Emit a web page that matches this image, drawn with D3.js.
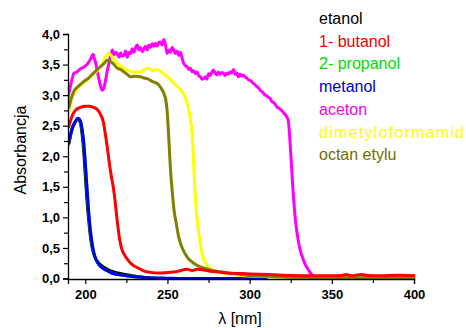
<!DOCTYPE html>
<html><head><meta charset="utf-8">
<script src="https://cdn.jsdelivr.net/npm/d3@7"></script>
<style>body{margin:0;background:#fff}svg{display:block}</style>
</head><body>
<svg id="c" width="466" height="328"></svg>
<script>
// ---- data (wavelength nm, absorbance) ----
const names = ["etanol","1- butanol","2- propanol","metanol","aceton","dimetyloformamid","octan etylu"];
const colors = ["#000000","#ff0000","#00dd00","#0000ee","#ff00ff","#ffff00","#808000"];
const xTicks = [200,250,300,350,400];
const yTicks = [0,0.5,1,1.5,2,2.5,3,3.5,4];

const etanol = [[190,2.2],[192,2.45],[194,2.57],[195.5,2.6],[197,2.55],[198,2.38],[199,2.1],[200,1.7],[201,1.3],[202,0.98],[203,0.72],[204,0.53],[205,0.42],[206,0.34],[208,0.26],[210,0.21],[213,0.16],[216,0.12],[220,0.09],[225,0.06],[230,0.04],[235,0.02],[240,0.01],[250,0.0]];
const butanol = [[190,2.48],[192,2.66],[194,2.75],[197,2.8],[200,2.82],[203,2.82],[205,2.8],[207,2.77],[209,2.7],[211,2.56],[212,2.4],[213,2.22],[214,2.02],[215,1.82],[216,1.65],[217,1.5],[218,1.3],[219,1.05],[220,0.82],[221,0.63],[222,0.5],[224,0.38],[226,0.3],[228,0.24],[230,0.2],[233,0.16],[236,0.12],[240,0.1],[245,0.09],[250,0.1],[255,0.11],[258,0.13],[262,0.15],[265,0.13],[268,0.15],[272,0.14],[276,0.12],[280,0.11],[286,0.09],[295,0.08],[306,0.07],[315,0.06],[325,0.05],[340,0.045],[350,0.045],[356,0.05],[359,0.065],[362,0.045],[368,0.065],[372,0.05],[380,0.045],[390,0.055],[400,0.05]];
const propanol = [[190,2.21],[192,2.44],[194,2.56],[195.5,2.61],[197,2.57],[198,2.44],[199,2.22],[200,1.88],[201,1.48],[202,1.1],[203,0.8],[204,0.58],[205,0.44],[206,0.34],[208,0.24],[210,0.18],[213,0.13],[216,0.09],[220,0.065],[225,0.045],[230,0.03],[240,0.01],[260,0.0],[305,0.0]];
const metanol = [[190,2.22],[192,2.45],[194,2.57],[195.5,2.62],[197,2.58],[198,2.45],[199,2.25],[200,1.9],[201,1.5],[202,1.12],[203,0.82],[204,0.6],[205,0.45],[206,0.35],[208,0.24],[210,0.18],[213,0.13],[216,0.09],[220,0.065],[225,0.045],[230,0.03],[235,0.02],[240,0.01],[250,0.005],[260,0.0],[310,0.0]];
const aceton = [[189.5,2.95],[191,3.15],[193.2,3.36],[195,3.38],[197,3.43],[199.3,3.46],[201,3.5],[202.3,3.55],[203.5,3.6],[204.7,3.67],[205.5,3.6],[206.4,3.52],[207.4,3.38],[208.4,3.25],[209.4,3.14],[210.4,3.08],[211.4,3.12],[212.4,3.25],[213.4,3.4],[214.4,3.52],[215.5,3.66],[216.5,3.74],[217.5,3.66],[218.5,3.7],[219.5,3.68],[220.5,3.62],[221.5,3.69],[222.5,3.64],[223.5,3.65],[224.5,3.72],[225.6,3.62],[226.6,3.7],[227.6,3.68],[228.6,3.76],[229.6,3.7],[230.6,3.78],[231.6,3.82],[232.6,3.74],[233.6,3.78],[234.7,3.71],[235.7,3.76],[236.7,3.8],[237.7,3.74],[238.7,3.82],[239.7,3.78],[240.7,3.84],[241.7,3.8],[242.7,3.85],[243.7,3.8],[244.7,3.86],[245.8,3.87],[246.8,3.82],[247.8,3.91],[248.8,3.82],[249.8,3.68],[250.8,3.74],[251.8,3.7],[252.8,3.78],[253.8,3.74],[254.8,3.68],[255.9,3.72],[256.9,3.65],[257.9,3.7],[258.9,3.6],[259.9,3.52],[261,3.48],[262,3.46],[263,3.42],[264,3.44],[265,3.38],[266,3.4],[267,3.35],[268,3.38],[269,3.32],[270,3.3],[271,3.26],[272,3.27],[273,3.3],[274,3.26],[275,3.35],[276,3.32],[277,3.38],[278,3.41],[279,3.36],[280,3.33],[281,3.38],[282,3.34],[283,3.37],[284,3.36],[285,3.32],[286,3.36],[287,3.34],[288,3.38],[289,3.36],[290.2,3.42],[291.2,3.34],[292.2,3.36],[293.2,3.3],[294.2,3.34],[295.2,3.31],[296.2,3.33],[297.2,3.3],[298.3,3.28],[299.3,3.25],[300.3,3.24],[301.3,3.22],[302.3,3.19],[303.3,3.17],[304.3,3.14],[305.3,3.12],[306.4,3.08],[307.4,3.06],[308.4,3.03],[309.4,3.0],[310.4,2.99],[311.4,2.96],[312.4,2.95],[313.4,2.9],[314.4,2.88],[315.5,2.85],[316.5,2.81],[318,2.78],[319.5,2.75],[321,2.7],[322.5,2.65],[323.5,2.58],[324.3,2.35],[325,2.05],[325.8,1.7],[326.5,1.4],[327.3,1.12],[328,0.92],[329,0.72],[330,0.56],[331,0.44],[332.5,0.32],[334,0.22],[336,0.13],[338,0.06],[340,0.025],[343,0.01],[360,0.01],[400,0.01]];
const dmf = [[190,2.72],[192,2.95],[195,3.1],[200,3.22],[204,3.32],[208,3.42],[210,3.5],[211.5,3.58],[213,3.66],[214.5,3.68],[216,3.64],[217.5,3.58],[219.5,3.52],[222,3.46],[225.6,3.41],[229,3.38],[233.6,3.38],[236,3.42],[238.7,3.44],[241,3.4],[243.8,3.42],[247,3.36],[250,3.3],[253,3.22],[256,3.14],[259,3.05],[261,2.95],[262.5,2.82],[263.5,2.68],[264.5,2.5],[265.3,2.25],[266,1.85],[266.8,1.4],[267.6,1.1],[268.5,0.85],[269.5,0.66],[270.5,0.48],[272,0.32],[274,0.22],[276,0.16],[278,0.13],[282,0.1],[288,0.07],[295,0.05],[305,0.035],[320,0.02],[340,0.02],[400,0.02]];
const octan = [[190,2.8],[193,3.06],[196,3.15],[199,3.22],[202,3.28],[205,3.36],[209,3.46],[211.5,3.52],[213.5,3.57],[215.5,3.55],[217.5,3.5],[219.5,3.44],[221.5,3.42],[223.5,3.38],[225.5,3.34],[227.6,3.3],[230,3.31],[233.6,3.3],[235.7,3.28],[237.7,3.27],[241,3.22],[243.8,3.19],[246,3.12],[247.8,3.03],[249,2.92],[249.8,2.75],[250.5,2.45],[251.3,2.05],[252,1.72],[253,1.4],[254,1.12],[255.5,0.88],[257,0.66],[259,0.5],[262,0.35],[266,0.25],[270,0.19],[276,0.14],[282,0.11],[290,0.08],[298,0.055],[310,0.035],[325,0.02],[350,0.015],[400,0.01]];

const series = [etanol, butanol, propanol, metanol, aceton, dmf, octan];
const drawOrder = [0,2,3,4,5,6,1];

// ---- layout ----
const svg = d3.select("#c");
const x = d3.scaleLinear().domain([189.5,400]).range([68,414]);
const y = d3.scaleLinear().domain([0,4]).range([278.5,34]);

const line = d3.line().x(d=>x(d[0])).y(d=>y(d[1])).curve(d3.curveMonotoneX);

// curves
svg.append("clipPath").attr("id","clip").append("rect").attr("x",68).attr("y",20).attr("width",350).attr("height",262);
const cg = svg.append("g").attr("clip-path","url(#clip)");
drawOrder.forEach(i=>{
  cg.append("path").datum(series[i]).attr("d",line)
    .attr("fill","none").attr("stroke",colors[i]).attr("stroke-width",3)
    .attr("stroke-linejoin","round").attr("stroke-linecap","round");
});

// axes
const fmt = d=>d3.format(".1f")(d).replace(".",",");
const ya = d3.axisLeft(y).tickValues(yTicks).tickFormat(fmt).tickSize(5).tickPadding(3);
const yAxis = svg.append("g").attr("transform","translate(68,0)").call(ya);
const yMinor = svg.append("g").attr("transform","translate(68,0)")
  .call(d3.axisLeft(y).tickValues(d3.range(0.25,4,0.5)).tickFormat("").tickSize(4));
const xa = d3.axisBottom(x).tickValues(xTicks).tickSize(5).tickPadding(6);
const xAxis = svg.append("g").attr("transform","translate(0,279)").call(xa);
const xMinor = svg.append("g").attr("transform","translate(0,279)")
  .call(d3.axisBottom(x).tickValues([225,275,325,375]).tickFormat("").tickSize(4));
[yAxis,xAxis,yMinor,xMinor].forEach(a=>{
  a.select(".domain").attr("stroke","#000").attr("stroke-width",1.3);
  a.selectAll(".tick line").attr("stroke","#000").attr("stroke-width",1.2);
  a.selectAll("text").attr("font-family","Liberation Sans, Arial, sans-serif")
    .attr("font-size",13).attr("font-weight","bold").attr("fill","#000");
});
yMinor.select(".domain").remove();
xMinor.select(".domain").remove();

// axis titles
svg.append("text").attr("transform","translate(26,150) rotate(-90)")
  .attr("text-anchor","middle").attr("font-family","Liberation Sans, Arial, sans-serif")
  .attr("font-size",16).text("Absorbancja");
svg.append("text").attr("x",240).attr("y",324).attr("text-anchor","middle")
  .attr("font-family","Liberation Sans, Arial, sans-serif").attr("font-size",16).text("λ [nm]");

// legend
const legendColors = ["#000000","#ee0000","#00dd00","#0000cc","#ee00ee","#ffff00","#707000"];
svg.append("g").selectAll("text").data(names).join("text")
  .attr("x",319).attr("y",(d,i)=>24+i*22.7)
  .attr("font-family","Liberation Sans, Arial, sans-serif").attr("font-size",16)
  .attr("fill",(d,i)=>legendColors[i])
  .each(function(d){ if(d==="dimetyloformamid") d3.select(this).attr("textLength",145).attr("lengthAdjust","spacing"); })
  .text(d=>d);
</script>
</body></html>
